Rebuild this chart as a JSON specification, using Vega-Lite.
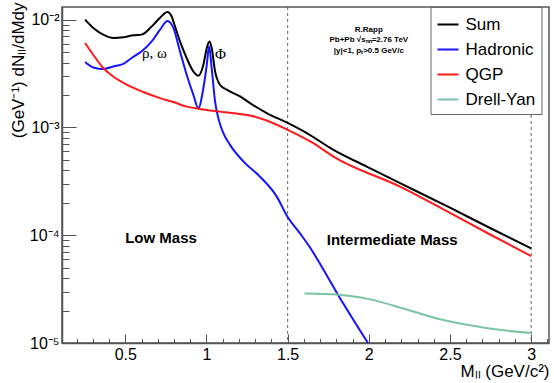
{
  "$schema": "https://vega.github.io/schema/vega-lite/v6.json",
  "width": 487,
  "height": 336,
  "autosize": {"type": "none"},
  "padding": {"left": 62, "top": 7, "right": 5, "bottom": 40},
  "background": "white",
  "config": {
    "view": {"stroke": "#555", "strokeWidth": 1.5},
    "font": "Liberation Sans",
    "axis": {"labelOverlap": false, "labelFlush": false}
  },
  "datasets": {
    "curves": [
      {"series": "Sum", "x": 0.252, "y": 0.0100},
      {"series": "Sum", "x": 0.303, "y": 0.00837},
      {"series": "Sum", "x": 0.364, "y": 0.00726},
      {"series": "Sum", "x": 0.426, "y": 0.00676},
      {"series": "Sum", "x": 0.488, "y": 0.00685},
      {"series": "Sum", "x": 0.549, "y": 0.00715},
      {"series": "Sum", "x": 0.601, "y": 0.00726},
      {"series": "Sum", "x": 0.663, "y": 0.00866},
      {"series": "Sum", "x": 0.714, "y": 0.0104},
      {"series": "Sum", "x": 0.759, "y": 0.0118},
      {"series": "Sum", "x": 0.786, "y": 0.0107},
      {"series": "Sum", "x": 0.796, "y": 0.00964},
      {"series": "Sum", "x": 0.837, "y": 0.00628},
      {"series": "Sum", "x": 0.878, "y": 0.0044},
      {"series": "Sum", "x": 0.919, "y": 0.00331},
      {"series": "Sum", "x": 0.950, "y": 0.00302},
      {"series": "Sum", "x": 0.981, "y": 0.00382},
      {"series": "Sum", "x": 1.002, "y": 0.00546},
      {"series": "Sum", "x": 1.018, "y": 0.00628},
      {"series": "Sum", "x": 1.032, "y": 0.00546},
      {"series": "Sum", "x": 1.053, "y": 0.00331},
      {"series": "Sum", "x": 1.083, "y": 0.00249},
      {"series": "Sum", "x": 1.125, "y": 0.00224},
      {"series": "Sum", "x": 1.207, "y": 0.00194},
      {"series": "Sum", "x": 1.268, "y": 0.00168},
      {"series": "Sum", "x": 1.371, "y": 0.00136},
      {"series": "Sum", "x": 1.5, "y": 0.0011},
      {"series": "Sum", "x": 1.618, "y": 0.000885},
      {"series": "Sum", "x": 1.782, "y": 0.000619},
      {"series": "Sum", "x": 1.987, "y": 0.000433},
      {"series": "Sum", "x": 2.193, "y": 0.000304},
      {"series": "Sum", "x": 2.5, "y": 0.00018},
      {"series": "Sum", "x": 2.75, "y": 0.000116},
      {"series": "Sum", "x": 3.0, "y": 0.0000755},
      {"series": "Hadronic", "x": 0.252, "y": 0.00405},
      {"series": "Hadronic", "x": 0.303, "y": 0.0036},
      {"series": "Hadronic", "x": 0.364, "y": 0.00348},
      {"series": "Hadronic", "x": 0.426, "y": 0.00368},
      {"series": "Hadronic", "x": 0.488, "y": 0.00388},
      {"series": "Hadronic", "x": 0.539, "y": 0.00441},
      {"series": "Hadronic", "x": 0.601, "y": 0.00508},
      {"series": "Hadronic", "x": 0.663, "y": 0.00628},
      {"series": "Hadronic", "x": 0.714, "y": 0.00807},
      {"series": "Hadronic", "x": 0.76, "y": 0.0097},
      {"series": "Hadronic", "x": 0.796, "y": 0.00837},
      {"series": "Hadronic", "x": 0.837, "y": 0.00507},
      {"series": "Hadronic", "x": 0.878, "y": 0.00308},
      {"series": "Hadronic", "x": 0.919, "y": 0.00201},
      {"series": "Hadronic", "x": 0.950, "y": 0.00151},
      {"series": "Hadronic", "x": 0.981, "y": 0.00232},
      {"series": "Hadronic", "x": 1.002, "y": 0.00382},
      {"series": "Hadronic", "x": 1.016, "y": 0.00565},
      {"series": "Hadronic", "x": 1.032, "y": 0.00356},
      {"series": "Hadronic", "x": 1.053, "y": 0.00174},
      {"series": "Hadronic", "x": 1.073, "y": 0.00122},
      {"series": "Hadronic", "x": 1.104, "y": 0.000885},
      {"series": "Hadronic", "x": 1.145, "y": 0.000689},
      {"series": "Hadronic", "x": 1.238, "y": 0.000466},
      {"series": "Hadronic", "x": 1.330, "y": 0.000349},
      {"series": "Hadronic", "x": 1.433, "y": 0.000228},
      {"series": "Hadronic", "x": 1.498, "y": 0.000149},
      {"series": "Hadronic", "x": 1.576, "y": 0.000104},
      {"series": "Hadronic", "x": 1.638, "y": 0.0000769},
      {"series": "Hadronic", "x": 1.710, "y": 0.000051},
      {"series": "Hadronic", "x": 1.812, "y": 0.0000278},
      {"series": "Hadronic", "x": 1.995, "y": 0.00001},
      {"series": "QGP", "x": 0.252, "y": 0.00607},
      {"series": "QGP", "x": 0.324, "y": 0.00425},
      {"series": "QGP", "x": 0.364, "y": 0.00356},
      {"series": "QGP", "x": 0.426, "y": 0.00297},
      {"series": "QGP", "x": 0.509, "y": 0.00249},
      {"series": "QGP", "x": 0.611, "y": 0.00213},
      {"series": "QGP", "x": 0.714, "y": 0.00187},
      {"series": "QGP", "x": 0.796, "y": 0.00172},
      {"series": "QGP", "x": 0.878, "y": 0.00156},
      {"series": "QGP", "x": 0.950, "y": 0.00149},
      {"series": "QGP", "x": 1.063, "y": 0.00141},
      {"series": "QGP", "x": 1.207, "y": 0.00133},
      {"series": "QGP", "x": 1.268, "y": 0.00129},
      {"series": "QGP", "x": 1.371, "y": 0.00116},
      {"series": "QGP", "x": 1.5, "y": 0.000951},
      {"series": "QGP", "x": 1.658, "y": 0.000715},
      {"series": "QGP", "x": 1.782, "y": 0.000537},
      {"series": "QGP", "x": 2.193, "y": 0.000282},
      {"series": "QGP", "x": 2.5, "y": 0.000161},
      {"series": "QGP", "x": 2.75, "y": 0.000101},
      {"series": "QGP", "x": 3.0, "y": 0.0000641},
      {"series": "Drell-Yan", "x": 1.603, "y": 0.0000288},
      {"series": "Drell-Yan", "x": 1.803, "y": 0.0000282},
      {"series": "Drell-Yan", "x": 2.008, "y": 0.0000254},
      {"series": "Drell-Yan", "x": 2.213, "y": 0.0000209},
      {"series": "Drell-Yan", "x": 2.419, "y": 0.0000169},
      {"series": "Drell-Yan", "x": 2.624, "y": 0.0000146},
      {"series": "Drell-Yan", "x": 2.829, "y": 0.0000131},
      {"series": "Drell-Yan", "x": 3.0, "y": 0.0000124}
    ],
    "rules": [{"x": 1.5}, {"x": 3.0}],
    "greek": [
      {"x": 0.603, "y": 0.0049, "label": "ρ, ω"},
      {"x": 1.053, "y": 0.0048, "label": "Φ"}
    ],
    "regions": [
      {"x": 0.499, "y": 0.0000935, "label": "Low Mass"},
      {"x": 1.741, "y": 0.000091, "label": "Intermediate Mass"}
    ],
    "info": [
      {"x": 2.0, "y": 0.00807, "label": "R.Rapp"},
      {"x": 2.0, "y": 0.00652, "label": "Pb+Pb √sₙₙ=2.76 TeV"},
      {"x": 2.0, "y": 0.00507, "label": "|y|<1, pₜ>0.5 GeV/c"}
    ]
  },
  "layer": [
    {
      "data": {"name": "rules"},
      "mark": {"type": "rule", "color": "#666", "strokeWidth": 1, "strokeDash": [3, 3]},
      "encoding": {
        "x": {"field": "x", "type": "quantitative"}
      }
    },
    {
      "data": {"name": "curves"},
      "mark": {"type": "line", "strokeWidth": 2, "clip": true, "interpolate": "monotone"},
      "encoding": {
        "x": {
          "field": "x", "type": "quantitative",
          "scale": {"domain": [0.11, 3.11], "nice": false, "zero": false},
          "axis": {
            "title": "Mₗₗ (GeV/c²)",
            "titleAnchor": "end",
            "titleAlign": "right",
            "titleFontSize": 17,
            "titleFontWeight": "normal",
            "titleColor": "#000",
            "titlePadding": -3,
            "tickCount": 200,
            "values": [0.2,0.3,0.4,0.5,0.6,0.7,0.8,0.9,1,1.1,1.2,1.3,1.4,1.5,1.6,1.7,1.8,1.9,2,2.1,2.2,2.3,2.4,2.5,2.6,2.7,2.8,2.9,3,3.1],
            "labelExpr": "abs(datum.value * 2 - round(datum.value * 2)) < 0.001 ? format(datum.value, '~g') : ''",
            "labelOverlap": false,
            "labelSeparation": 0,
            "labelBound": false,
            "labelFlush": false,
            "labelFontSize": 16,
            "labelColor": "#000",
            "labelPadding": 12,
            "tickSize": {"condition": {"test": "abs(datum.value * 2 - round(datum.value * 2)) < 0.001", "value": -9}, "value": -4.5},
            "tickColor": "#555",
            "domainColor": "#555",
            "domainWidth": 1.5,
            "grid": false
          }
        },
        "y": {
          "field": "y", "type": "quantitative",
          "scale": {"type": "log", "domain": [0.00001, 0.0131], "nice": false},
          "axis": {
            "title": "(GeV⁻¹) dNₗₗ/dMdy",
            "titleAnchor": "end",
            "titleAlign": "right",
            "titleFontSize": 17,
            "titleFontWeight": "normal",
            "titleColor": "#000",
            "titleX": -44,
            "titleY": -5,
            "titleBaseline": "middle",
            "tickCount": 200,
            "values": [0.00001,0.00002,0.00003,0.00004,0.00005,0.00006,0.00007,0.00008,0.00009,0.0001,0.0002,0.0003,0.0004,0.0005,0.0006,0.0007,0.0008,0.0009,0.001,0.002,0.003,0.004,0.005,0.006,0.007,0.008,0.009,0.01],
            "labelExpr": "datum.value == 0.01 ? '10⁻²' : datum.value == 0.001 ? '10⁻³' : datum.value == 0.0001 ? '10⁻⁴' : datum.value == 0.00001 ? '10⁻⁵' : ''",
            "labelOverlap": false,
            "labelFlush": false,
            "labelFontSize": 16,
            "labelColor": "#000",
            "labelPadding": 17,
            "tickSize": {"condition": {"test": "datum.value == 0.01 || datum.value == 0.001 || datum.value == 0.0001 || datum.value == 0.00001", "value": -14}, "value": -7},
            "tickColor": "#555",
            "domainColor": "#555",
            "domainWidth": 1.5,
            "grid": false
          }
        },
        "color": {
          "field": "series", "type": "nominal",
          "scale": {"domain": ["Sum", "Hadronic", "QGP", "Drell-Yan"], "range": ["#000000", "#1414ff", "#ff1a1a", "#7cc4a4"]},
          "legend": {
            "title": null,
            "orient": "none",
            "legendX": 368.5,
            "legendY": 0,
            "zindex": 1,
            "fillColor": "white",
            "strokeColor": "#666",
            "padding": 6,
            "symbolType": "stroke",
            "symbolSize": 441,
            "symbolStrokeWidth": 2,
            "labelFontSize": 17,
            "labelColor": "#000",
            "labelOffset": 6,
            "rowPadding": 5,
            "labelExpr": "datum.label + '\u00a0\u00a0\u00a0'"
          }
        }
      }
    },
    {
      "data": {"name": "greek"},
      "mark": {"type": "text", "font": "Liberation Serif", "fontSize": 15, "align": "left", "baseline": "middle", "color": "#000"},
      "encoding": {
        "x": {"field": "x", "type": "quantitative"},
        "y": {"field": "y", "type": "quantitative"},
        "text": {"field": "label"}
      }
    },
    {
      "data": {"name": "regions"},
      "mark": {"type": "text", "fontSize": 15, "fontWeight": "bold", "align": "left", "baseline": "middle", "color": "#000"},
      "encoding": {
        "x": {"field": "x", "type": "quantitative"},
        "y": {"field": "y", "type": "quantitative"},
        "text": {"field": "label"}
      }
    },
    {
      "data": {"name": "info"},
      "mark": {"type": "text", "fontSize": 8, "fontWeight": "bold", "align": "center", "baseline": "middle", "color": "#000"},
      "encoding": {
        "x": {"field": "x", "type": "quantitative"},
        "y": {"field": "y", "type": "quantitative"},
        "text": {"field": "label"}
      }
    }
  ]
}
